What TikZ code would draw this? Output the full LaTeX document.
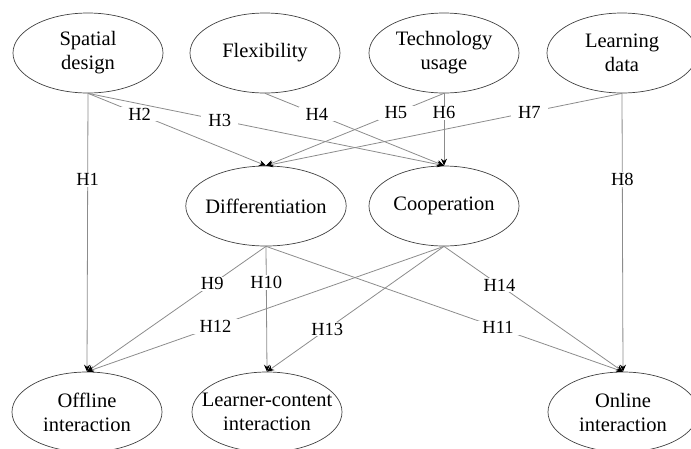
\documentclass[tikz,border=0pt]{standalone}
\usepackage{fontspec}
\setmainfont{Liberation Serif}
\usepackage{tikz}
\usetikzlibrary{shapes.geometric,arrows.meta}

\tikzset{
  construct/.style={draw=black!75, line width=0.7pt, ellipse, minimum width=150pt,
    minimum height=80pt, inner sep=0pt, align=center,
    font=\fontsize{20.5}{24}\selectfont},
  hpath/.style={draw=black!45, line width=0.8pt, -{Stealth[length=7pt,width=6pt,black]}},
  hyp/.style={fill=white, inner xsep=7pt, inner ysep=1pt, font=\fontsize{18.5}{20}\selectfont}
}

\begin{document}
\begin{tikzpicture}[x=1pt,y=-1pt]
             \useasboundingbox (0,0) rectangle (691,448);

             % exogenous constructs
             \node[construct] (sd) at (88, 53) {Spatial\\design};
             \node[construct] (fx) at (265, 53) {Flexibility};
             \node[construct] (tu) at (444, 53) {Technology\\usage};
             \node[construct] (ld) at (622, 53) {Learning\\data};

             % mediators
             \node[construct, inner xsep=-4pt] (df) at (266, 206) {Differentiation};
             \node[construct] (co) at (444, 206) {Cooperation};

             % outcomes
             \node[construct] (oi) at (87, 412) {Offline\\interaction};
             \node[construct, inner xsep=-17pt] (lc) at (267, 412) {Learner-content\\interaction};
             \node[construct] (on) at (623, 412) {Online\\interaction};

             \draw[hpath] (sd.south) -- node[hyp, pos=.31] {H1} (oi.north);
             \draw[hpath] (sd.south) -- node[hyp, pos=.29] {H2} (df.north);
             \draw[hpath] (sd.south) -- node[hyp, pos=.37] {H3} (co.north);
             \draw[hpath] (fx.south) -- node[hyp, pos=.29] {H4} (co.north);
             \draw[hpath] (tu.south) -- node[hyp, pos=.27] {H5} (df.north);
             \draw[hpath] (tu.south) -- node[hyp, pos=.27] {H6} (co.north);
             \draw[hpath] (ld.south) -- node[hyp, pos=.26] {H7} (df.north);
             \draw[hpath] (ld.south) -- node[hyp, pos=.31] {H8} (on.north);

             \draw[hpath] (df.south) -- node[hyp, pos=.30] {H9} (oi.north);
             \draw[hpath] (df.south) -- node[hyp, pos=.29] {H10} (lc.north);
             \draw[hpath] (df.south) -- node[hyp, pos=.65] {H11} (on.north);
             \draw[hpath] (co.south) -- node[hyp, pos=.64] {H12} (oi.north);
             \draw[hpath] (co.south) -- node[hyp, pos=.66] {H13} (lc.north);
             \draw[hpath] (co.south) -- node[hyp, pos=.31] {H14} (on.north);
\end{tikzpicture}
\end{document}
